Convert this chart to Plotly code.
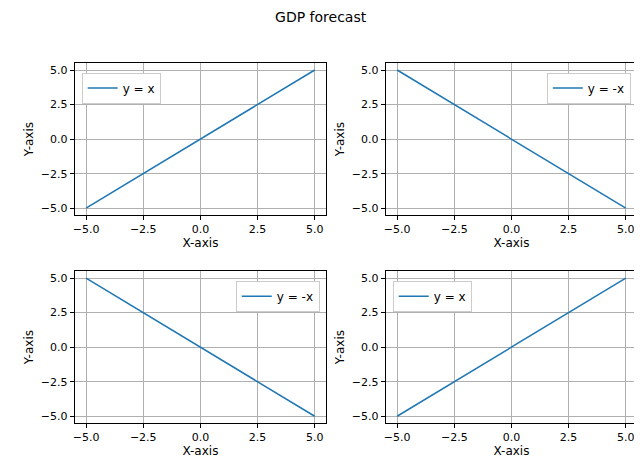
import plotly.graph_objects as go

x_vals = [-5, 5]
y_pos = [-5, 5]
y_neg = [5, -5]

# domains shifted to allow for the page's 8px body margin
panels = [
    dict(y=y_pos, name="y = x", dx=[0.101, 0.494], dy=[0.564, 0.884], lx=0.112, lxa="left"),
    dict(y=y_neg, name="y = -x", dx=[0.587, 0.980], dy=[0.564, 0.884], lx=0.970, lxa="right"),
    dict(y=y_neg, name="y = -x", dx=[0.101, 0.494], dy=[0.126, 0.446], lx=0.484, lxa="right"),
    dict(y=y_pos, name="y = x", dx=[0.587, 0.980], dy=[0.126, 0.446], lx=0.598, lxa="left"),
]

AX = dict(
    showline=True, linewidth=1, linecolor="black", mirror=True,
    ticks="outside", ticklen=4, tickcolor="black",
    showgrid=True, gridcolor="#b0b0b0", zeroline=False,
    range=[-5.5, 5.5], tickvals=[-5, -2.5, 0, 2.5, 5], tickformat=".1f",
    tickfont=dict(size=11, color="black"),
)

fig = go.Figure()
layout = {}
for i, p in enumerate(panels, start=1):
    s = "" if i == 1 else str(i)
    leg = "legend" if i == 1 else f"legend{i}"
    fig.add_trace(go.Scatter(x=x_vals, y=p["y"], mode="lines", name=p["name"],
                             line=dict(color="#1f77b4", width=1.5), showlegend=True,
                             xaxis="x" + s, yaxis="y" + s, legend=leg))
    layout["xaxis" + s] = dict(AX, domain=p["dx"], anchor="y" + s,
                               title=dict(text="X-axis", standoff=2, font=dict(size=12)))
    layout["yaxis" + s] = dict(AX, domain=p["dy"], anchor="x" + s,
                               title=dict(text="Y-axis", standoff=4, font=dict(size=12)))
    layout[leg] = dict(x=p["lx"], xanchor=p["lxa"], y=p["dy"][1] - 0.02, yanchor="top",
                       bordercolor="#cccccc", borderwidth=1, bgcolor="white",
                       font=dict(size=12, color="black"))

fig.update_layout(**layout)
fig.update_layout(
    width=642, height=475, showlegend=True,
    margin=dict(l=0, r=0, t=0, b=0),
    plot_bgcolor="white", paper_bgcolor="white",
    font=dict(family="DejaVu Sans", color="black"),
    title=dict(text="GDP forecast", x=0.487, xanchor="center", y=0.981, yanchor="middle",
               font=dict(size=14, color="black")),
)

fig.write_html("out.html")
